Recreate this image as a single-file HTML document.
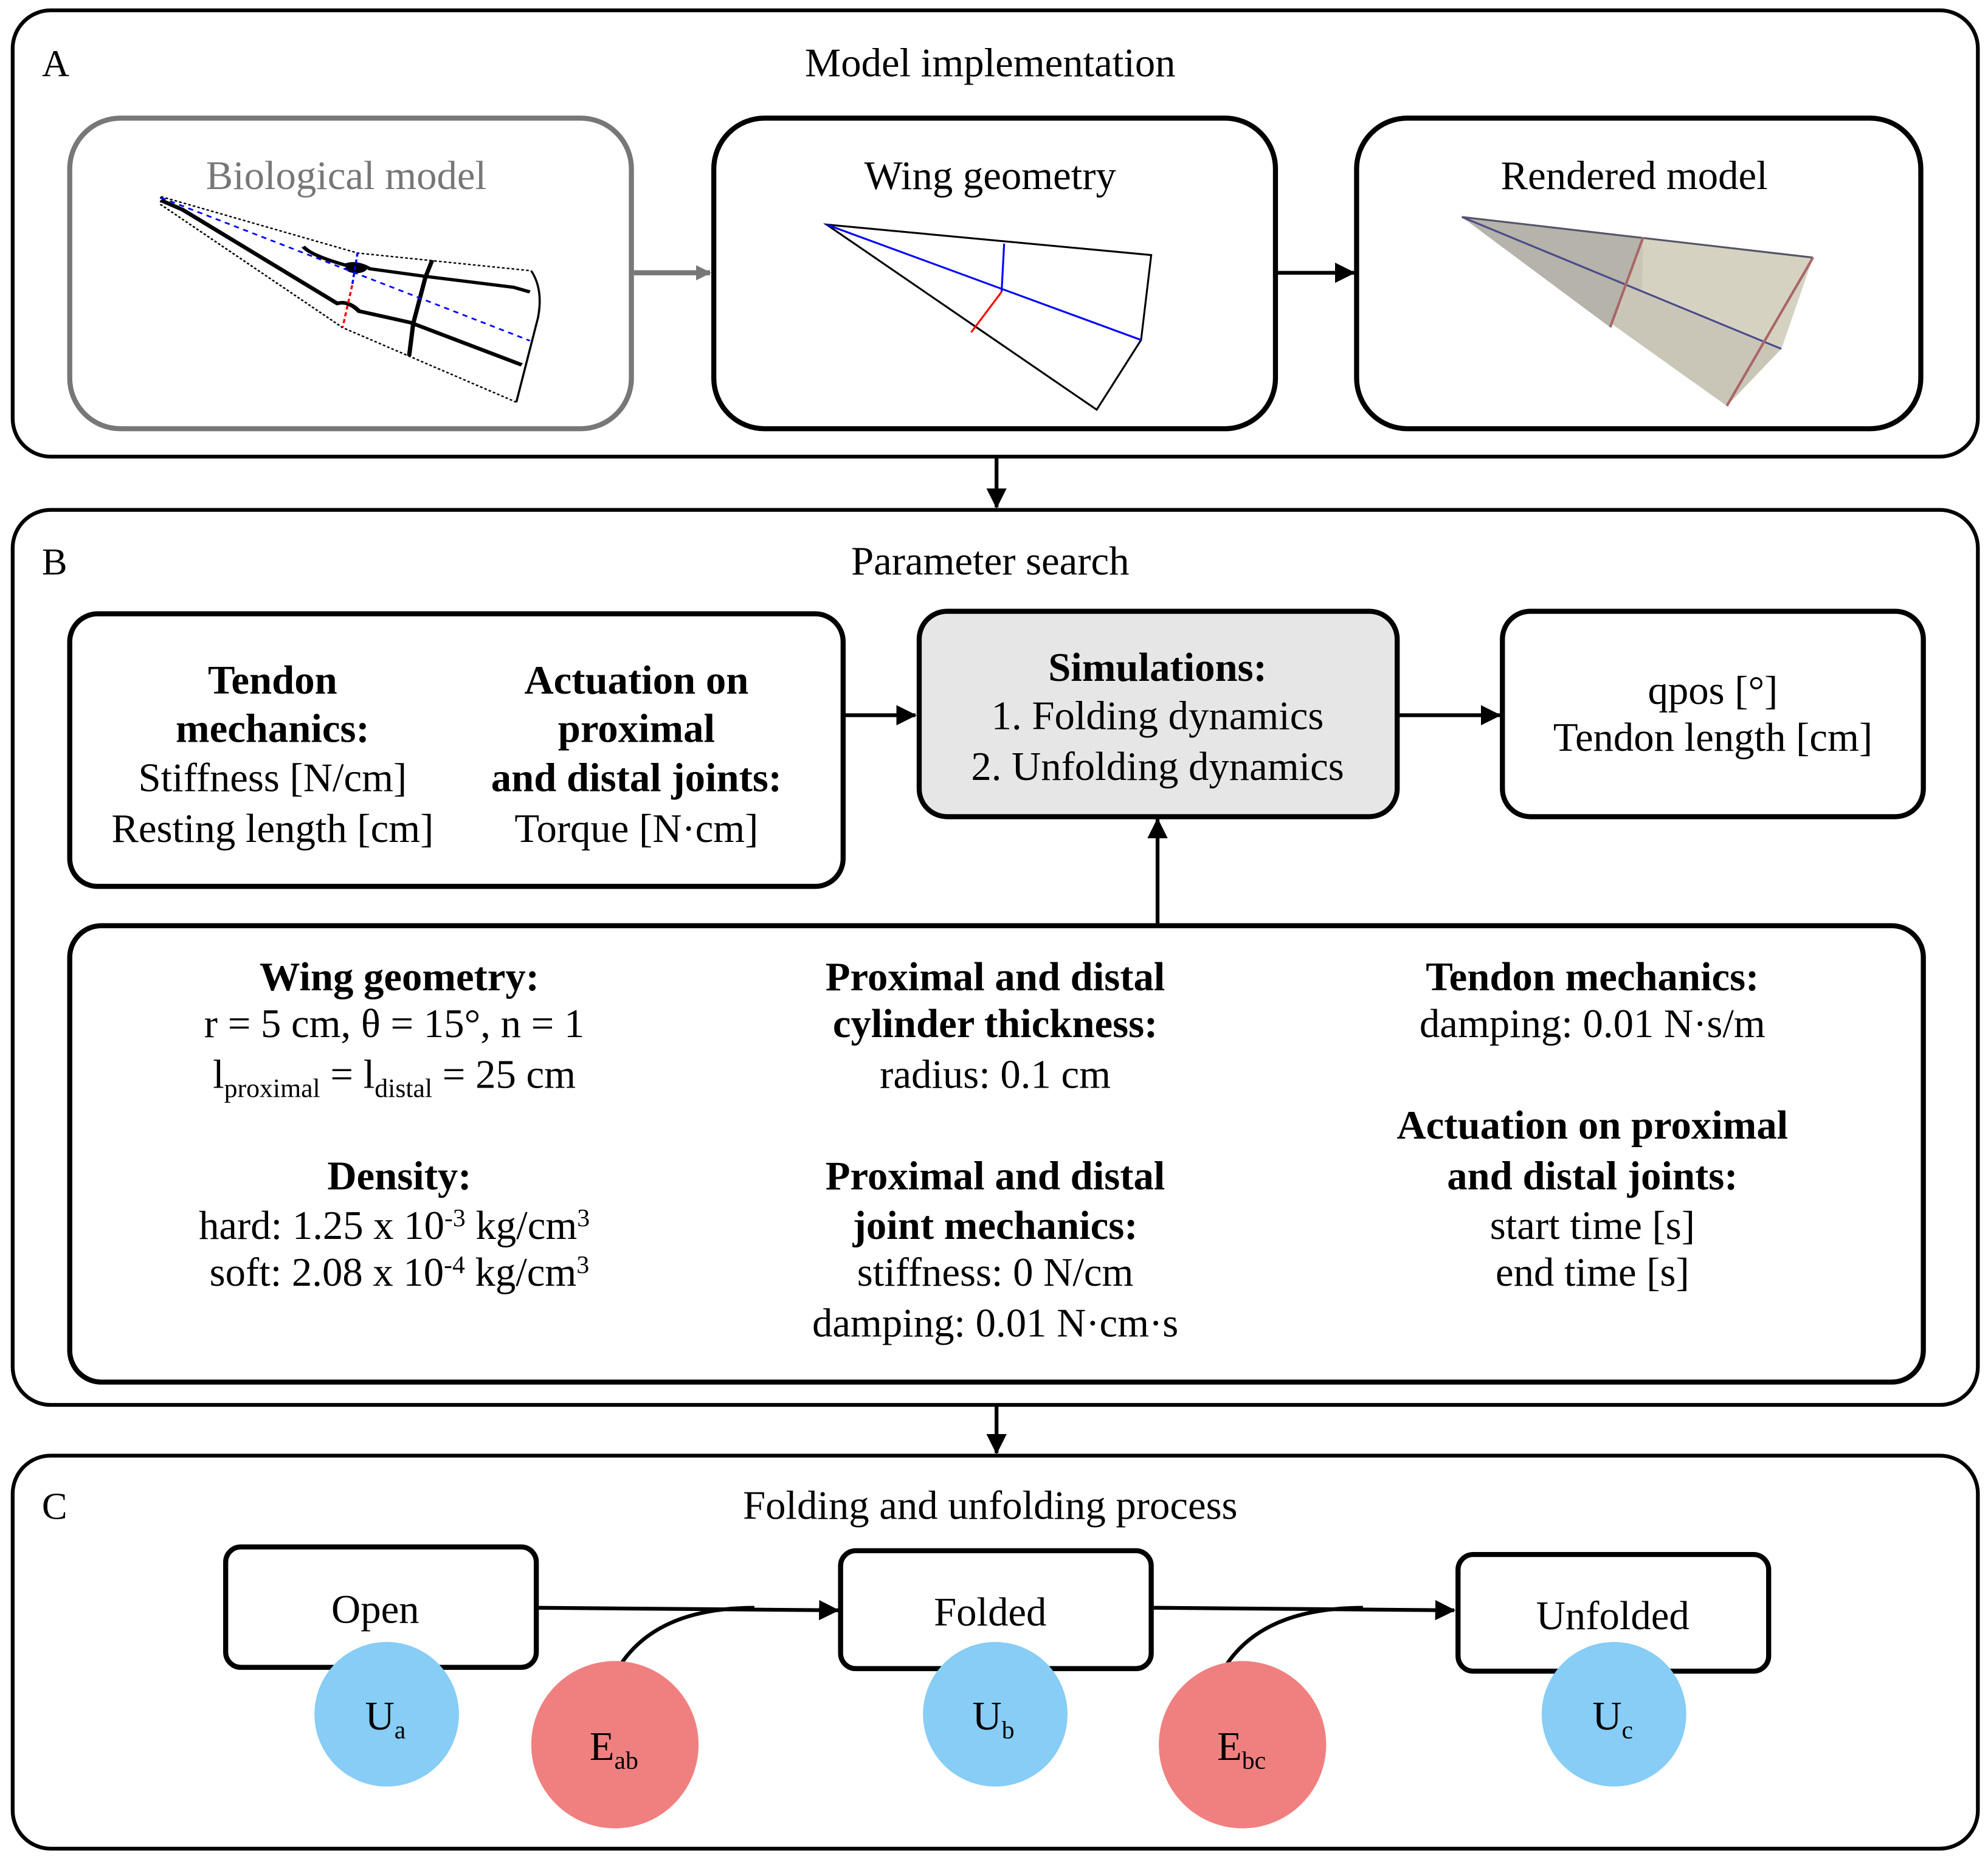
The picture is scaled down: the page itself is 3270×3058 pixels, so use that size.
<!DOCTYPE html>
<html><head><meta charset="utf-8"><style>
html,body{margin:0;padding:0;background:#fff}
svg{display:block}
text{font-family:"Liberation Serif","Times New Roman",serif;fill:#000}
</style></head><body>
<svg width="3270" height="3058" viewBox="0 0 1568 1466" xmlns="http://www.w3.org/2000/svg">
<defs>
<marker id="ahg" markerWidth="12" markerHeight="12" refX="11" refY="6" orient="auto" markerUnits="userSpaceOnUse"><path d="M0,0 L12,6 L0,12 Z" fill="#777"/></marker>
<marker id="ahb" markerWidth="16" markerHeight="16" refX="15" refY="8" orient="auto" markerUnits="userSpaceOnUse"><path d="M0,0 L16,8 L0,16 Z" fill="#000"/></marker>
</defs>
<g fill="none" stroke="#000" stroke-width="3">
<rect x="10" y="8" width="1550" height="352" rx="30"/>
<rect x="10" y="402" width="1550" height="706" rx="30"/>
<rect x="10" y="1148" width="1550" height="310" rx="30"/>
<rect x="55" y="93" width="443" height="245" rx="40" stroke="#777" stroke-width="4"/>
<rect x="563" y="93" width="443" height="245" rx="40" stroke-width="4"/>
<rect x="1070" y="93" width="445" height="245" rx="40" stroke-width="4"/>
<rect x="55" y="484" width="610" height="215" rx="22" stroke-width="4"/>
<rect x="725" y="482" width="377" height="162" rx="22" fill="#e6e6e6" stroke-width="4"/>
<rect x="1185" y="482" width="332" height="162" rx="22" stroke-width="4"/>
<rect x="55" y="730" width="1462" height="360" rx="25" stroke-width="4"/>
<rect x="178" y="1220" width="245" height="95" rx="12" stroke-width="4"/>
<rect x="663" y="1223" width="245" height="93" rx="12" stroke-width="4"/>
<rect x="1150" y="1226" width="245" height="92" rx="12" stroke-width="4"/>
</g>
<g stroke="#000" stroke-width="3" fill="none">
<line x1="500" y1="215" x2="560" y2="215" stroke="#777" stroke-width="4" marker-end="url(#ahg)"/>
<line x1="1008" y1="215" x2="1068" y2="215" marker-end="url(#ahb)"/>
<line x1="786" y1="360" x2="786" y2="400" marker-end="url(#ahb)"/>
<line x1="665" y1="564" x2="722" y2="564" marker-end="url(#ahb)"/>
<line x1="1102" y1="564" x2="1183" y2="564" marker-end="url(#ahb)"/>
<line x1="913" y1="728" x2="913" y2="646" marker-end="url(#ahb)"/>
<line x1="786" y1="1108" x2="786" y2="1146" marker-end="url(#ahb)"/>
<line x1="425" y1="1268" x2="661" y2="1270" marker-end="url(#ahb)"/>
<path d="M490,1312 Q520,1268 595,1268"/>
<line x1="910" y1="1268" x2="1147" y2="1270" marker-end="url(#ahb)"/>
<path d="M968,1312 Q998,1268 1075,1268"/>
</g>
<g transform="translate(105.5,139) scale(0.214,0.159)" fill="none">
<path d="M100,100 L825,380 L1465,468" stroke="#000" stroke-width="7" stroke-dasharray="10,8"/>
<path d="M1410,1120 L770,750 L100,140 L100,100" stroke="#000" stroke-width="7" stroke-dasharray="10,8"/>
<path d="M1465,468 Q1510,560 1490,700 L1410,1120" stroke="#000" stroke-width="8"/>
<path d="M100,118 L180,165 L750,630 Q790,615 830,668 L1020,725 L1430,935" stroke="#000" stroke-width="18"/>
<path d="M625,348 Q650,390 780,440 Q820,420 870,458 L1070,495 L1400,550 L1460,573" stroke="#000" stroke-width="16"/>
<ellipse cx="820" cy="455" rx="40" ry="25" fill="#000"/>
<path d="M1100,415 L1075,500 L1030,730 L1015,890" stroke="#000" stroke-width="16"/>
<path d="M100,105 L1460,815" stroke="#00f" stroke-width="8" stroke-dasharray="20,18"/>
<path d="M825,378 L805,540" stroke="#00f" stroke-width="8" stroke-dasharray="20,14"/>
<path d="M805,540 L770,748" stroke="#f00" stroke-width="8" stroke-dasharray="20,14"/>
</g>
<g fill="none" stroke-width="1.5">
<path d="M652,177 L908,201 L900,268 L865,323 Z" stroke="#000"/>
<line x1="652" y1="177" x2="900" y2="268" stroke="#00f"/>
<line x1="792" y1="192" x2="790" y2="230" stroke="#00f"/>
<line x1="790" y1="230" x2="766" y2="262" stroke="#f00"/>
</g>
<g>
<path d="M1153,171 L1430,203 L1405,275 L1362,320 Z" fill="#c9c6b8"/>
<path d="M1153,171 L1296,187 L1270,258 Z" fill="#b5b3aa"/>
<path d="M1296,187 L1430,203 L1405,275 L1295,230 Z" fill="#d6d2c2"/>
<line x1="1153" y1="171" x2="1405" y2="275" stroke="#4a4a8a" stroke-width="1.5"/>
<line x1="1153" y1="171" x2="1430" y2="203" stroke="#556" stroke-width="1.5"/>
<line x1="1296" y1="187" x2="1270" y2="258" stroke="#a66" stroke-width="2"/>
<line x1="1430" y1="203" x2="1362" y2="320" stroke="#a66" stroke-width="2"/>
</g>
<circle cx="305" cy="1352" r="57" fill="#87cdf5"/>
<circle cx="485" cy="1376" r="66" fill="#f08080"/>
<circle cx="785" cy="1352" r="57" fill="#87cdf5"/>
<circle cx="980" cy="1376" r="66" fill="#f08080"/>
<circle cx="1273" cy="1352" r="57" fill="#87cdf5"/>
<g font-size="32">
<text x="33" y="60" font-size="30">A</text>
<text x="33" y="453" font-size="30">B</text>
<text x="33" y="1198" font-size="30">C</text>
<text text-anchor="middle">
<tspan x="785" y="60">Model implementation</tspan>
<tspan x="277" y="149" style="fill:#777">Biological model</tspan>
<tspan x="785" y="149">Wing geometry</tspan>
<tspan x="1293" y="149">Rendered model</tspan>
<tspan x="785" y="453">Parameter search</tspan>
<tspan x="785" y="1198">Folding and unfolding process</tspan>
<tspan x="300" y="1280">Open</tspan>
<tspan x="785" y="1282">Folded</tspan>
<tspan x="1272" y="1285">Unfolded</tspan>
</text>
<text text-anchor="middle" font-weight="bold"><tspan x="215" y="547">Tendon</tspan><tspan x="215" y="585">mechanics:</tspan></text>
<text text-anchor="middle"><tspan x="215" y="624">Stiffness [N/cm]</tspan><tspan x="215" y="664">Resting length [cm]</tspan></text>
<text text-anchor="middle" font-weight="bold"><tspan x="502" y="547">Actuation on</tspan><tspan x="502" y="585">proximal</tspan><tspan x="502" y="624">and distal joints:</tspan></text>
<text text-anchor="middle"><tspan x="502" y="664">Torque [N·cm]</tspan></text>
<text text-anchor="middle" font-weight="bold" x="913" y="537">Simulations:</text>
<text text-anchor="middle"><tspan x="913" y="575">1. Folding dynamics</tspan><tspan x="913" y="615">2. Unfolding dynamics</tspan></text>
<text text-anchor="middle"><tspan x="1351" y="555">qpos [°]</tspan><tspan x="1351" y="592">Tendon length [cm]</tspan></text>
<text text-anchor="middle" font-weight="bold"><tspan x="315" y="781">Wing geometry:</tspan><tspan x="315" y="938">Density:</tspan></text>
<text text-anchor="middle"><tspan x="315" y="818">r = 5 cm, θ = 15°, n = 1</tspan>
<tspan x="315" y="858">l<tspan font-size="21" dy="7">proximal</tspan><tspan dy="-7"> = l</tspan><tspan font-size="21" dy="7">distal</tspan><tspan dy="-7"> = 25 cm</tspan></tspan>
<tspan x="315" y="977">hard: 1.25 x 10<tspan font-size="20" dy="-10">-3</tspan><tspan dy="10"> kg/cm</tspan><tspan font-size="20" dy="-10">3</tspan></tspan>
<tspan x="315" y="1014">soft: 2.08 x 10<tspan font-size="20" dy="-10">-4</tspan><tspan dy="10"> kg/cm</tspan><tspan font-size="20" dy="-10">3</tspan></tspan></text>
<text text-anchor="middle" font-weight="bold"><tspan x="785" y="781">Proximal and distal</tspan><tspan x="785" y="818">cylinder thickness:</tspan><tspan x="785" y="938">Proximal and distal</tspan><tspan x="785" y="977">joint mechanics:</tspan></text>
<text text-anchor="middle"><tspan x="785" y="858">radius: 0.1 cm</tspan><tspan x="785" y="1014">stiffness: 0 N/cm</tspan><tspan x="785" y="1054">damping: 0.01 N·cm·s</tspan></text>
<text text-anchor="middle" font-weight="bold"><tspan x="1256" y="781">Tendon  mechanics:</tspan><tspan x="1256" y="898">Actuation on proximal</tspan><tspan x="1256" y="938">and distal joints:</tspan></text>
<text text-anchor="middle"><tspan x="1256" y="818">damping: 0.01 N·s/m</tspan><tspan x="1256" y="977">start time [s]</tspan><tspan x="1256" y="1014">end time [s]</tspan></text>
<text x="288" y="1364">U<tspan font-size="20" dy="7">a</tspan></text>
<text x="465" y="1388">E<tspan font-size="20" dy="7">ab</tspan></text>
<text x="767" y="1364">U<tspan font-size="20" dy="7">b</tspan></text>
<text x="960" y="1388">E<tspan font-size="20" dy="7">bc</tspan></text>
<text x="1256" y="1364">U<tspan font-size="20" dy="7">c</tspan></text>
</g>
</svg>
</body></html>
